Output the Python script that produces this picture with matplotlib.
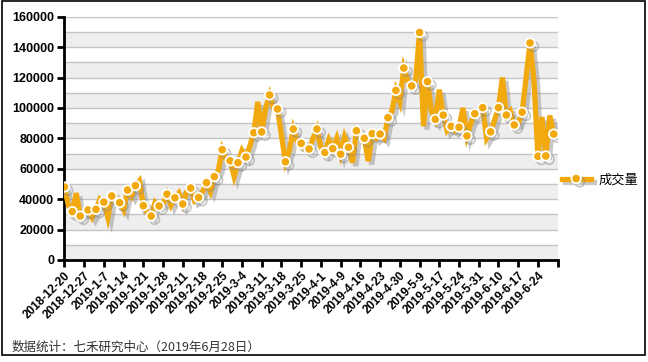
#importing needed libraries
import matplotlib
matplotlib.use('Agg')
import matplotlib.pyplot as plt
import matplotlib.patheffects as pe
from matplotlib.patches import Rectangle

plt.rcParams['font.family'] = ['Liberation Sans', 'Noto Sans CJK SC', 'DejaVu Sans']

#daily volume, one value per trading day from 2018-12-20 to 2019-6-28
volume = [48000, 36000, 31800, 44000, 28900, 31000, 32900, 28000, 33300, 40000,
          38100, 28000, 42100, 40000, 37700, 33000, 46000, 42000, 48900, 52000,
          35700, 31000, 28900, 38000, 35500, 37000, 43300, 36000, 40900, 44000,
          36800, 45000, 47300, 39000, 41100, 45000, 50800, 45000, 54800, 59000,
          72500, 66000, 65200, 55000, 64000, 72000, 67700, 75000, 83700, 104000,
          84200, 100000, 108500, 100000, 99300, 82000, 64600, 72000, 86100, 78000,
          76700, 73000, 73000, 80000, 86100, 74000, 70700, 79000, 73200, 80000,
          69600, 81000, 74100, 64000, 85000, 82000, 80000, 65000, 83100, 80000,
          82800, 80000, 93600, 98000, 111500, 104000, 126200, 118000, 114500, 118000,
          149600, 88000, 117300, 98000, 92500, 112000, 95300, 85000, 87900, 85000,
          87300, 100000, 81600, 90000, 96200, 97000, 100200, 80000, 84300, 92000,
          100200, 120000, 95300, 98000, 88800, 90000, 97200, 120000, 142700, 118000,
          68200, 94000, 68400, 95000, 82800]

#tick labels, one every 5 trading days
tick_labels = ['2018-12-20', '2018-12-27', '2019-1-7', '2019-1-14', '2019-1-21',
               '2019-1-28', '2019-2-11', '2019-2-18', '2019-2-25', '2019-3-4',
               '2019-3-11', '2019-3-18', '2019-3-25', '2019-4-1', '2019-4-9',
               '2019-4-16', '2019-4-23', '2019-4-30', '2019-5-9', '2019-5-17',
               '2019-5-24', '2019-5-31', '2019-6-10', '2019-6-17', '2019-6-24']

orange = '#F2A90E'

fig = plt.figure(figsize=(6.48, 3.62), dpi=100)
ax = fig.add_axes([0.0988, 0.2818, 0.7618, 0.6721])

# striped background
for lo in range(0, 150000, 20000):
    ax.axhspan(lo, lo + 10000, color='#eeeeee', zorder=0, lw=0)
for g in range(10000, 160001, 10000):
    ax.axhline(g, color='#c4c4c4', lw=1, zorder=1)

x = list(range(len(volume)))
shadow = [pe.SimpleLineShadow(offset=(2.5, -2.5), shadow_color='#888888', alpha=0.45),
          pe.Normal()]
ax.plot(x, volume, color=orange, lw=3.8, marker='o', markevery=2, markersize=6.8,
        markerfacecolor=orange, markeredgecolor='white', markeredgewidth=1.3,
        label='成交量', zorder=3, path_effects=shadow, solid_joinstyle='miter')

ax.set_xlim(-0.1, 125)
ax.set_ylim(0, 160000)
ax.set_yticks(range(0, 160001, 20000))
ax.set_yticklabels([str(v) for v in range(0, 160001, 20000)], fontsize=9, fontweight='bold')
ax.set_xticks(range(0, 126, 5))
ax.set_xticklabels(tick_labels + [''], rotation=45, ha='right', rotation_mode='anchor',
                   fontsize=8.5, fontweight='bold')
ax.tick_params(axis='both', length=5, width=2, color='black', pad=2)

for s in ['top', 'right']:
    ax.spines[s].set_visible(False)
ax.spines['left'].set_linewidth(2)
ax.spines['bottom'].set_linewidth(2)

leg = ax.legend(loc='center left', bbox_to_anchor=(1.008, 0.33), frameon=False,
                handlelength=2.2, handletextpad=0.6, borderpad=0, borderaxespad=0,
                prop={'family': ['Noto Sans CJK SC'], 'size': 9.5})

fig.text(0.018, 0.03, '数据统计：七禾研究中心（2019年6月28日）', fontsize=9, color='#333333',
         family=['Noto Sans CJK SC', 'DejaVu Sans'])

# outer frame
fig.patches.append(Rectangle((0.003, 0.018), 0.993, 0.978, transform=fig.transFigure,
                             fill=False, edgecolor='black', lw=1.2))

plt.savefig('out.png', dpi=100)
